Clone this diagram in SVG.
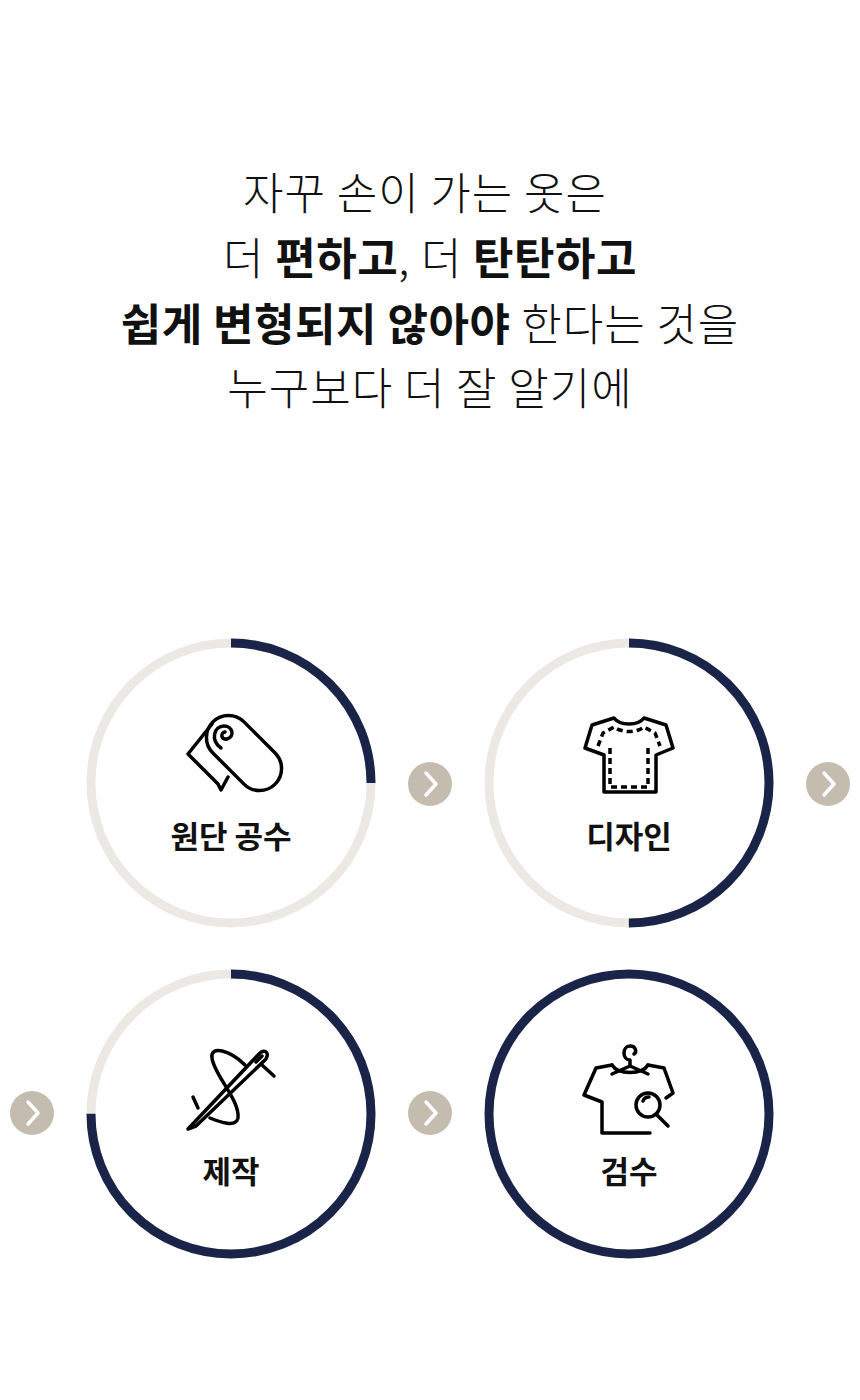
<svg xmlns="http://www.w3.org/2000/svg" width="860" height="1400" viewBox="0 0 860 1400">
<style>
.h{font-family:"Noto Sans CJK KR","Noto Sans",sans-serif;font-size:44px;font-weight:300;letter-spacing:1px;fill:#111;text-anchor:middle}
.b{font-weight:700;letter-spacing:0.5px}
.lb{font-family:"Noto Sans CJK KR","Noto Sans",sans-serif;font-size:31px;font-weight:700;fill:#111;text-anchor:middle}
.bg{fill:none;stroke:#ece9e4;stroke-width:9}
.fg{fill:none;stroke:#1a2448;stroke-width:9}
.ic{fill:none;stroke:#000;stroke-width:3.5;stroke-linejoin:round;stroke-linecap:round}
.dash{stroke-dasharray:6 4;stroke-linecap:butt}
.ab{fill:#c5bcb0}
.ac{fill:none;stroke:#fff;stroke-width:3.5;stroke-linecap:round;stroke-linejoin:round}
</style>
<rect width="860" height="1400" fill="#fff"/>
<g id="headline">
<text class="h" x="425" y="210">자꾸 손이 가는 옷은</text>
<text class="h" x="430" y="275">더 <tspan class="b">편하고</tspan>, 더 <tspan class="b">탄탄하고</tspan></text>
<text class="h" x="430" y="341"><tspan class="b">쉽게 변형되지 않아야</tspan> 한다는 것을</text>
<text class="h" x="430" y="405">누구보다 더 잘 알기에</text>
</g>
<g id="node1">
<circle class="bg" cx="231" cy="783" r="140"/>
<circle class="fg" cx="231" cy="783" r="140" stroke-dasharray="219.9 1000" transform="rotate(-90 231 783)"/>
<g class="ic">
<rect x="200" y="731" width="88" height="44" rx="22" transform="rotate(45 244 753)"/>
<path d="M212 724 L188 754 L218 784 L221 790 L228 777"/>
<path d="M221 748 C210 740 214 726 224 726 C233 726 235 737 227 739 C221 740 220 733 225 732"/>
</g>
<text class="lb" x="231" y="848">원단 공수</text>
</g>
<g id="node2">
<circle class="bg" cx="629" cy="783" r="140"/>
<circle class="fg" cx="629" cy="783" r="140" stroke-dasharray="439.8 1000" transform="rotate(-90 629 783)"/>
<g class="ic">
<path d="M614 718 C620 726 638 726 644 718 L666 725 L673 748 L656 755 L656 792 L604 792 L604 755 L585 748 L592 725 Z"/>
<path class="dash" d="M598 746 L603 733 L614 727 C622 733 636 733 644 727 L655 733 L660 746"/>
<path class="dash" d="M610 748 L610 787 L648 787 L648 748"/>
</g>
<text class="lb" x="629" y="848">디자인</text>
</g>
<g id="node3">
<circle class="bg" cx="231" cy="1114" r="140"/>
<circle class="fg" cx="231" cy="1114" r="140" stroke-dasharray="659.7 1000" transform="rotate(-90 231 1114)"/>
<g class="ic">
<path d="M188 1129 L258 1055 C264 1048 270 1052 266 1059 L196 1126 Z"/>
<path d="M256 1062 L262 1056"/>
<path d="M262 1065 L274 1076"/>
<path d="M193 1097 L198 1108"/>
<path d="M245 1065 C230 1050 210 1045 212 1058 C214 1075 240 1100 238 1118 C236 1128 220 1122 210 1118"/>
</g>
<text class="lb" x="231" y="1183">제작</text>
</g>
<g id="node4">
<circle class="fg" cx="629" cy="1114" r="140"/>
<g class="ic">
<path d="M630 1066 L630 1060 C622 1060 622 1046 630 1046 C636 1046 637 1052 634 1054"/>
<path d="M630 1066 L612 1074 M630 1066 L648 1074"/>
<path d="M612 1065 L596 1068 L584 1095 L602 1102 L602 1133 L650 1133"/>
<path d="M648 1065 L664 1068 L673 1093 L666 1098"/>
<path d="M612 1065 C618 1075 642 1075 648 1065"/>
<circle cx="648" cy="1105" r="12"/>
<path d="M657 1115 L668 1126"/>
<path d="M643 1101 C644 1098 646 1097 649 1097"/>
</g>
<text class="lb" x="629" y="1183">검수</text>
</g>
<g id="connectors">
<circle class="ab" cx="430" cy="784" r="22"/><path class="ac" d="M426 773 L436 784 L426 795"/>
<circle class="ab" cx="828" cy="784" r="22"/><path class="ac" d="M824 773 L834 784 L824 795"/>
<circle class="ab" cx="32" cy="1113" r="22"/><path class="ac" d="M28 1102 L38 1113 L28 1124"/>
<circle class="ab" cx="430" cy="1113" r="22"/><path class="ac" d="M426 1102 L436 1113 L426 1124"/>
</g>
</svg>
